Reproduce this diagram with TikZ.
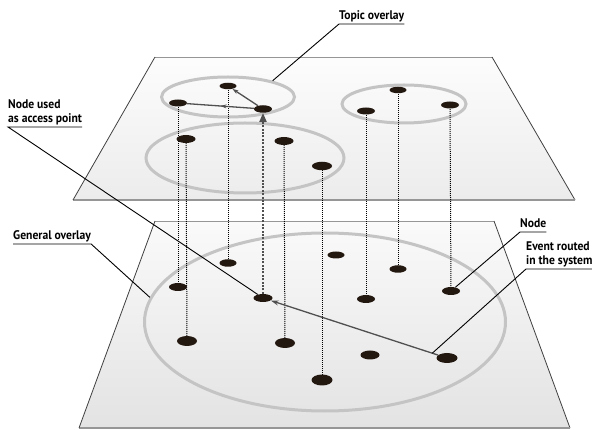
\documentclass[tikz,border=0pt]{standalone}
\usepackage{fontspec}
\setmainfont{PT Sans}
\newfontfamily\lblfont[FakeStretch=0.93]{PT Sans}
\usetikzlibrary{shapes.geometric,arrows.meta,decorations.markings,calc}

\definecolor{blobfill}{RGB}{35,24,16}
\definecolor{ringgray}{RGB}{196,196,196}
\definecolor{flowgray}{RGB}{80,80,80}
\definecolor{edgegray}{RGB}{150,150,150}

\tikzset{
  blob/.style 2 args={ellipse, fill=blobfill, draw=none, inner sep=0pt,
    minimum width=#1, minimum height=#2},
  ring/.style={ellipse, draw=ringgray, line width=3pt, inner sep=0pt},
  planeside/.style={draw=black!75, line width=0.8pt},
  planerim/.style={draw=edgegray, line width=0.8pt},
  planebase/.style={draw=edgegray, line width=1.6pt},
  link/.style={black, line width=1pt, dash pattern=on 1pt off 1pt},
  flow/.style={flowgray, line width=1.3pt},
  uplink/.style={flowgray, line width=2pt, dash pattern=on 2pt off 1.4pt,
    -{Triangle[length=9pt,width=7pt]}},
  leader/.style={black, line width=0.9pt},
  lbl/.style={font=\lblfont\bfseries\fontsize{12.5}{14.5}\selectfont,
    inner xsep=0pt, inner ysep=1.5pt, text depth=2.5pt, align=left,
    anchor=south west}
}

\begin{document}
\begin{tikzpicture}[x=1pt,y=-1pt]
\useasboundingbox (0,0) rectangle (592,430);

% ---- the two planes ----
\coordinate (tp1) at (155,57);
\coordinate (tp2) at (492,57);
\coordinate (tp3) at (575,200);
\coordinate (tp4) at (73,200);
\coordinate (bp1) at (155,221);
\coordinate (bp2) at (494,221);
\coordinate (bp3) at (570,428);
\coordinate (bp4) at (79,428);

\shade[top color=gray!2, bottom color=gray!15]
  (tp1) -- (tp2) -- (tp3) -- (tp4) -- cycle;
\draw[planerim] (tp1) -- (tp2);
\draw[planeside] (tp2) -- (tp3);
\draw[planebase] (tp3) -- (tp4);
\draw[planeside] (tp4) -- (tp1);

\shade[top color=gray!4, bottom color=gray!22]
  (bp1) -- (bp2) -- (bp3) -- (bp4) -- cycle;
\draw[planerim] (bp1) -- (bp2);
\draw[planeside] (bp2) -- (bp3);
\draw[planebase] (bp3) -- (bp4);
\draw[planeside] (bp4) -- (bp1);

% ---- overlay groups ----
\node[ring, minimum width=133pt, minimum height=40pt] (ringA) at (228,97) {};
\node[ring, minimum width=198pt, minimum height=70pt] (ringB) at (245,158) {};
\node[ring, minimum width=124pt, minimum height=38pt] (ringC) at (404,104) {};
\node[ring, minimum width=361pt, minimum height=178pt] (ringG) at (325,322) {};

% ---- peers, topic overlay ----
\coordinate (n1) at (228,86);
\coordinate (n2) at (178,103);
\coordinate (n3) at (263,109);
\coordinate (n4) at (186,139);
\coordinate (n5) at (284,141);
\coordinate (n6) at (322,166);
\coordinate (n7) at (366,111);
\coordinate (n8) at (398,90);
\coordinate (n9) at (450,105);

% ---- peers, general overlay ----
\coordinate (b1) at (228,263);
\coordinate (b2) at (178,287);
\coordinate (b3) at (263,298);
\coordinate (b4) at (187,341);
\coordinate (b5) at (285,343);
\coordinate (b6) at (336,255);
\coordinate (b7) at (398,269);
\coordinate (b8) at (366,299);
\coordinate (b9) at (451,291);
\coordinate (b10) at (370,355);
\coordinate (b11) at (447,358);
\coordinate (b12) at (322,380);

% vertical correspondences between the two overlays
\draw[link] (n1) -- (b1);
\draw[link] (n2) -- (b2);
\draw[link] (n4) -- (b4);
\draw[link] (n5) -- (b5);
\draw[link] (n6) -- (b12);
\draw[link] (n7) -- (b8);
\draw[link] (n8) -- (b7);
\draw[link] (n9) -- (b9);

% peer shapes
\node[blob={17pt}{6.5pt}] (p1) at (n1) {};
\node[blob={18pt}{7pt}] (p2) at (n2) {};
\node[blob={18pt}{7.5pt}] (p3) at (n3) {};
\node[blob={19pt}{8pt}] (p4) at (n4) {};
\node[blob={19pt}{8pt}] (p5) at (n5) {};
\node[blob={20pt}{8.5pt}] (p6) at (n6) {};
\node[blob={18pt}{7pt}] (p7) at (n7) {};
\node[blob={17pt}{6.5pt}] (p8) at (n8) {};
\node[blob={18pt}{7pt}] (p9) at (n9) {};

\node[blob={17pt}{7.5pt}] (q1) at (b1) {};
\node[blob={18pt}{8pt}] (q2) at (b2) {};
\node[blob={19pt}{8pt}] (q3) at (b3) {};
\node[blob={20pt}{10pt}] (q4) at (b4) {};
\node[blob={20pt}{10pt}] (q5) at (b5) {};
\node[blob={17pt}{7pt}] (q6) at (b6) {};
\node[blob={17pt}{7.5pt}] (q7) at (b7) {};
\node[blob={18pt}{8pt}] (q8) at (b8) {};
\node[blob={18pt}{8pt}] (q9) at (b9) {};
\node[blob={19pt}{9pt}] (q10) at (b10) {};
\node[blob={21pt}{10pt}] (q11) at (b11) {};
\node[blob={21pt}{11pt}] (q12) at (b12) {};

% ---- event routing ----
\draw[flow, -{Stealth[length=8pt,width=5pt]}] (q11) -- (q3);
\draw[uplink] (q3) -- (p3);
\draw[flow, -{Stealth[length=6pt,width=4pt]}] (p3) -- (p1);
\draw[flow, postaction={decorate}, decoration={markings,
  mark=at position 0.5 with {\arrow{Stealth[length=6pt,width=4pt]}}}] (p3) -- (p2);

% ---- callouts ----
\node[lbl] (topic) at (339,24) {Topic overlay};
\node[lbl] (access) at (8,127) {Node used\\as access point};
\node[lbl] (general) at (13,244) {General overlay};
\node[lbl] (peer) at (520,232) {Node};
\node[lbl] (event) at (526,269) {Event routed\\in the system};

\coordinate (evt) at ($(b11)!0.08!(b3)$);
\draw[leader] (ringA.20) -- (topic.south west) -- (topic.south east);
\draw[leader] (q3) -- (access.south west) -- (access.south east);
\draw[leader] (ringG.172) -- (general.south east) -- (general.south west);
\draw[leader] (q9) -- (peer.south west) -- (peer.south east);
\draw[leader] (evt) -- (event.south west) -- (event.south east);
\end{tikzpicture}
\end{document}
